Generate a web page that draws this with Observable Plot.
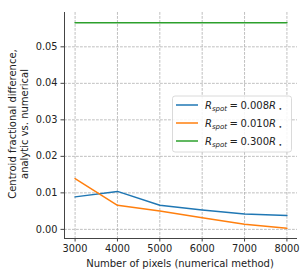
<!DOCTYPE html>
<html><head><meta charset="utf-8">
<script src="https://cdn.jsdelivr.net/npm/d3@7"></script>
<script src="https://cdn.jsdelivr.net/npm/@observablehq/plot@0.6"></script>
<style>
body{margin:0;background:#fff}
#chart{position:relative;width:308px;height:277px}
</style>
</head><body><div id="chart"></div>
<script>
const pixels = [3000, 4000, 5000, 6000, 7000, 8000];
const r008 = [0.0089, 0.0104, 0.0066, 0.0053, 0.0042, 0.0038];
const r010 = [0.0139, 0.0066, 0.0050, 0.0032, 0.0014, 0.0003];
const r300 = [0.0566, 0.0566, 0.0566, 0.0566, 0.0566, 0.0566];
const seriesValues = ["0.008", "0.010", "0.300"];
const seriesColors = ["#1f77b4", "#ff7f0e", "#2ca02c"];
const xTicks = [3000, 4000, 5000, 6000, 7000, 8000];
const yTicks = [0, 0.01, 0.02, 0.03, 0.04, 0.05];
const xDomain = [2750, 8250];
const yDomain = [-0.0025, 0.0594];
const yLabelLines = ["Centroid fractional difference,", "analytic vs. numerical"];
const xLabel = "Number of pixels (numerical method)";

const series = [r008, r010, r300];
const rows = series.flatMap((vals, i) => vals.map((v, j) => ({x: pixels[j], y: v, s: seriesValues[i]})));

const gridStyle = {stroke: "#b0b0b0", strokeOpacity: 1, strokeWidth: 0.8, strokeDasharray: "2.8,1.2"};

const plot = Plot.plot({
  width: 308, height: 277,
  marginLeft: 64, marginRight: 11, marginTop: 12, marginBottom: 39,
  style: {fontFamily: "DejaVu Sans", fontSize: "9.8px", color: "#222", background: "#fff"},
  x: {domain: xDomain},
  y: {domain: yDomain},
  color: {domain: seriesValues, range: seriesColors},
  marks: [
    Plot.gridX(xTicks, gridStyle),
    Plot.gridY(yTicks, gridStyle),
    Plot.line(rows, {x: "x", y: "y", z: "s", stroke: "s", strokeWidth: 1.5}),
    Plot.ruleX([xDomain[0]], {stroke: "#444", strokeWidth: 1}),
    Plot.ruleY([yDomain[0]], {stroke: "#444", strokeWidth: 1}),
    Plot.axisX({ticks: xTicks, tickFormat: d => String(d), tickSize: 3.5, tickPadding: 3, label: null, stroke: "#444"}),
    Plot.axisY({ticks: yTicks, tickFormat: d3.format(".2f"), tickSize: 3.5, tickPadding: 3.5, label: null, stroke: "#444"})
  ]
});
document.getElementById("chart").appendChild(plot);

const svg = d3.select(plot);
// y label (two lines)
const yl = svg.append("text")
  .attr("transform", "translate(18,124) rotate(-90)")
  .attr("text-anchor", "middle")
  .attr("font-family", "DejaVu Sans").attr("font-size", "10px").attr("fill", "#222");
yl.append("tspan").attr("x", 0).attr("y", -6).attr("dy", "0.35em").text(yLabelLines[0]);
yl.append("tspan").attr("x", 0).attr("y", 6).attr("dy", "0.35em").text(yLabelLines[1]);
// x label
svg.append("text").attr("x", 180).attr("y", 263.5).attr("dy", "0.35em")
  .attr("text-anchor", "middle").attr("font-family", "DejaVu Sans").attr("font-size", "10px").attr("fill", "#222")
  .text(xLabel);

// legend
const lg = svg.append("g").attr("text-anchor", "start");
lg.append("rect").attr("x", 172.5).attr("y", 96).attr("width", 119).attr("height", 56)
  .attr("rx", 2.5).attr("fill", "#fff").attr("fill-opacity", 0.85).attr("stroke", "#d0d0d0").attr("stroke-width", 0.8);
const entryY = [105, 123, 141];
seriesValues.forEach((v, i) => {
  lg.append("line").attr("x1", 176).attr("x2", 198).attr("y1", entryY[i]).attr("y2", entryY[i])
    .attr("stroke", seriesColors[i]).attr("stroke-width", 1.5);
  const t = lg.append("text").attr("x", 205).attr("y", entryY[i]).attr("dy", "0.35em")
    .attr("text-anchor", "start")
    .attr("font-family", "DejaVu Sans").attr("font-size", "10px").attr("fill", "#222");
  t.append("tspan").attr("font-style", "italic").text("R");
  t.append("tspan").attr("font-style", "italic").attr("font-size", "7px").attr("dy", "2.5").text("spot");
  t.append("tspan").attr("dy", "-2.5").attr("dx", "2.5").text("=");
  t.append("tspan").attr("dx", "2.5").text(v);
  t.append("tspan").attr("font-style", "italic").text("R");
  t.append("tspan").attr("font-size", "6px").attr("dx", "2.5").attr("dy", "2").text("•");
});
</script></body></html>
